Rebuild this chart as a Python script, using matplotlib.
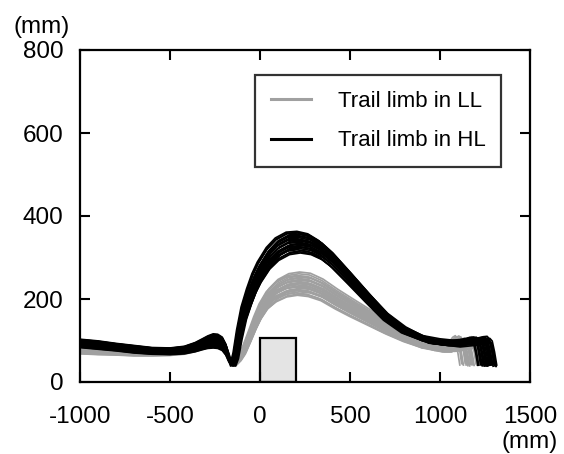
import matplotlib
matplotlib.use("Agg")
import matplotlib.pyplot as plt
from matplotlib.patches import Rectangle
import numpy as np

plt.rcParams['font.family'] = ['Liberation Sans', 'DejaVu Sans']
plt.rcParams['axes.unicode_minus'] = False

# ---- data (mm) ----
# mean trajectory of the trail limb toe, high obstacle (HL)
hl_x = [-1000, -900, -800, -700, -600, -500, -420, -360, -320, -290, -260, -235, -210, -190, -175,
        -162, -150, -135, -115, -90, -60, -30, 0, 50, 100, 160, 220, 280, 340, 400, 500,
        600, 700, 800, 900, 1000, 1100, 1200, 1240, 1262, 1275, 1288, 1300]
hl_y = [93, 89, 84, 79, 75, 74, 77, 84, 91, 96, 99, 98, 92, 78, 60,
        45, 42, 62, 112, 162, 202, 237, 264, 298, 320, 334, 337, 332, 318, 296, 250,
        203, 158, 126, 106, 97, 92, 97, 101, 102, 96, 70, 40]
# spread of the HL bundle in the swing (peak) phase and in the approach/landing phase (mm)
hl_spread_a = [0, 0, 0, 0, 0, 0, 0, 0, 0, 0, 0, 0, 0, 0, 2,
               3, 3, 8, 14, 19, 22, 24, 25, 26, 27, 27, 26, 25, 23, 21, 18,
               15, 12, 9, 6, 4, 3, 2, 2, 2, 2, 2, 1]
hl_spread_b = [10, 10, 9, 9, 8, 8, 9, 11, 13, 15, 17, 17, 16, 13, 9,
               4, 2, 2, 2, 1, 0, 0, 0, 0, 0, 0, 0, 0, 0, 0, 0,
               0, 1, 2, 3, 5, 6, 7, 7, 7, 6, 5, 2]

# mean trajectory, low obstacle (LL)
ll_x = [-1000, -900, -800, -700, -600, -500, -420, -360, -320, -290, -260, -235, -210, -190, -175,
        -160, -140, -115, -90, -60, -30, 0, 40, 90, 150, 210, 270, 340, 420, 500, 600,
        700, 800, 900, 1000, 1040, 1070, 1090, 1105, 1118, 1130, 1140]
ll_y = [76, 74, 72, 70, 69, 70, 74, 81, 88, 94, 97, 97, 92, 80, 64,
        48, 45, 58, 78, 110, 143, 172, 200, 220, 233, 237, 234, 222, 200, 180, 156,
        132, 110, 92, 80, 80, 88, 100, 104, 96, 70, 42]
ll_spread_a = [0, 0, 0, 0, 0, 0, 0, 0, 0, 0, 0, 0, 0, 0, 2,
               3, 4, 7, 12, 16, 20, 23, 25, 27, 28, 28, 28, 26, 24, 22, 19,
               16, 13, 10, 7, 6, 5, 4, 4, 3, 3, 2]
ll_spread_b = [8, 8, 7, 7, 6, 6, 7, 8, 10, 11, 12, 12, 11, 9, 7,
               4, 2, 2, 2, 1, 0, 0, 0, 0, 0, 0, 0, 0, 0, 0, 0,
               0, 1, 2, 3, 4, 5, 6, 6, 5, 4, 2]

# per-trial deviations (fraction of spread), horizontal shift and end-of-step shift (mm)
hl_amp_a = [1.0, 0.85, 0.7, 0.6, 0.5, 0.4, 0.3, 0.2, 0.1, 0.0, -0.1, -0.2, -0.3, -0.4,
            -0.5, -0.6, -0.7, -0.8, -0.9, -1.0, 0.25, -0.15, 0.55, -0.45, 0.9, 0.75]
hl_amp_b = [-0.3, 0.6, -0.9, 0.2, 1.0, -0.5, 0.8, -0.1, 0.4, -0.7, 0.0, 0.9, -0.4, 0.5,
            -1.0, 0.3, -0.6, 0.7, -0.2, 0.1, -0.8, 0.65, -0.35, 0.85, 0.15, -0.55]
hl_shift = [-15, -10, 5, -5, 10, 0, -12, 8, 3, -6, 12, -3, 6, -9, 15, 2, -14, 9, -1, 4, -7, 11, -4, 7, -11, 1]
hl_end = [-90, -60, -40, -20, 0, 10, -75, -30, 15, -50, 5, -10, -65, -25, 12, -45, -5, -85, -35, 8, -55, -15, 3, -70, -20, -40]

ll_amp_a = [1.0, 0.85, 0.7, 0.55, 0.45, 0.3, 0.2, 0.1, 0.0, -0.1, -0.2, -0.3, -0.4, -0.5,
            -0.6, -0.7, -0.8, -0.9, -1.0, 0.35, -0.25, 0.65, -0.55, 0.05]
ll_amp_b = [0.5, -0.8, 0.2, 0.9, -0.3, -1.0, 0.7, 0.0, -0.6, 0.4, 1.0, -0.2, 0.6, -0.5,
            0.1, -0.9, 0.8, -0.4, 0.3, -0.7, 0.95, -0.1, 0.45, -0.65]
ll_shift = [10, 5, -5, 15, 0, 8, -8, 12, 3, -3, 6, -10, 14, -6, 2, 9, -12, 4, -2, 11, -7, 7, -4, 1]
ll_end = [0, 20, 60, -20, 40, 90, 10, 150, -10, 30, 70, 5, 120, 50, -30, 25, 100, 15, 80, 45, -15, 160, 35, 65]

# obstacle (mm)
obstacle_x = [0, 200]
obstacle_h = 105

legend_labels = ["Trail limb in LL", "Trail limb in HL"]
x_ticks = [-1000, -500, 0, 500, 1000, 1500]
y_ticks = [0, 200, 400, 600, 800]

LL_COLOR = '#a0a0a0'
HL_COLOR = '#000000'

fig = plt.figure(figsize=(5.64, 4.54), dpi=100)
ax = fig.add_axes([80/564, (454-382)/454, 450/564, 332/454])


def trial(xs, ys, spa, spb, amp_a, amp_b, shift, end, end_from):
    xs = np.asarray(xs, float)
    ys = np.asarray(ys, float) + amp_a * np.asarray(spa, float) + amp_b * np.asarray(spb, float)
    xo = xs.copy()
    mid = (xs > -160) & (xs < 900)
    xo[mid] += shift
    tail = xs >= end_from
    xo[tail] += end
    return xo, ys


ax.add_patch(Rectangle((obstacle_x[0], 0), obstacle_x[1] - obstacle_x[0], obstacle_h,
                       facecolor='#e4e4e4', edgecolor='black', linewidth=1.6, zorder=1))

for a, b, s, e in zip(ll_amp_a, ll_amp_b, ll_shift, ll_end):
    xo, yo = trial(ll_x, ll_y, ll_spread_a, ll_spread_b, a, b, s, e, 1000)
    ax.plot(xo, yo, color=LL_COLOR, lw=1.25, zorder=2)
for a, b, s, e in zip(hl_amp_a, hl_amp_b, hl_shift, hl_end):
    xo, yo = trial(hl_x, hl_y, hl_spread_a, hl_spread_b, a, b, s, e, 1000)
    ax.plot(xo, yo, color=HL_COLOR, lw=1.25, zorder=3)

ax.plot([], [], color=LL_COLOR, lw=2.2, label=legend_labels[0])
ax.plot([], [], color=HL_COLOR, lw=2.2, label=legend_labels[1])

ax.set_xlim(-1000, 1500)
ax.set_ylim(0, 800)
ax.set_xticks(x_ticks)
ax.set_yticks(y_ticks)
ax.set_xticklabels([str(v) for v in x_ticks])
ax.set_yticklabels([str(v) for v in y_ticks])
ax.tick_params(direction='in', length=7, width=1.5, top=True, right=True,
               labelsize=17.5)
ax.tick_params(axis='x', pad=17)
ax.tick_params(axis='y', pad=12)
for sp in ax.spines.values():
    sp.set_linewidth(1.6)

leg = ax.legend(loc='upper right', bbox_to_anchor=((501-80)/450, (382-75)/332),
                borderaxespad=0, fontsize=16, frameon=True, fancybox=False,
                handlelength=1.8, handletextpad=1.2, labelspacing=0.85,
                borderpad=0.7, handleheight=0.7)
leg.get_frame().set_edgecolor('black')
leg.get_frame().set_linewidth(1.6)
leg._legend_box.sep = 0

fig.text(42/564, 1 - 27/454, "(mm)", fontsize=17.5, ha='center', va='center')
fig.text(530/564, 1 - 442/454, "(mm)", fontsize=17.5, ha='center', va='center')

fig.savefig("out.png", dpi=100)
